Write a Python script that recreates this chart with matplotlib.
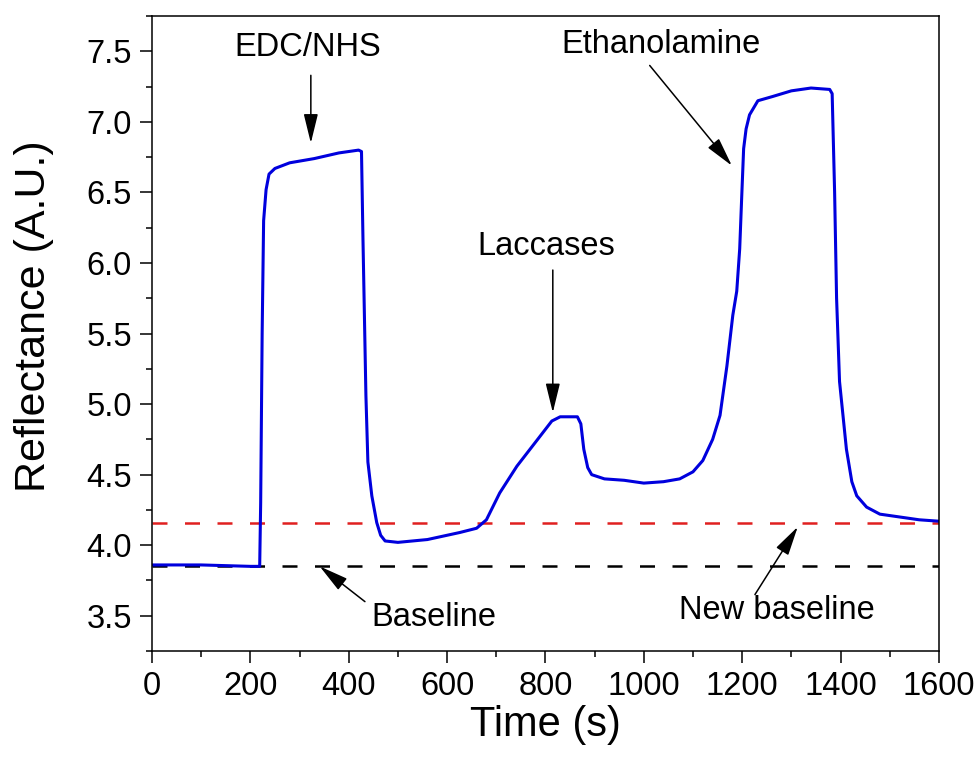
import numpy as np
import matplotlib
matplotlib.use('Agg')
from matplotlib import pyplot as plt
from matplotlib.ticker import MultipleLocator, AutoMinorLocator

plt.rcParams['font.family'] = ['Liberation Sans', 'DejaVu Sans']

# reflectance trace
time = [0, 100, 200, 219, 221, 224, 227, 232, 238, 250, 280, 330, 380, 420,
        426, 429, 435, 439, 447, 457, 465, 474, 500, 560, 626, 660, 680, 707,
        742, 782, 813, 830, 865, 872, 878, 886, 894, 920, 960, 1000, 1040,
        1073, 1100, 1120, 1140, 1155, 1169, 1181, 1189, 1195, 1199, 1203,
        1208, 1215, 1232, 1262, 1300, 1340, 1378, 1383, 1388, 1392, 1398,
        1412, 1423, 1433, 1453, 1480, 1520, 1560, 1600]
refl = [3.86, 3.86, 3.85, 3.85, 4.3, 5.5, 6.3, 6.52, 6.63, 6.67, 6.71, 6.74,
        6.78, 6.80, 6.79, 6.17, 5.06, 4.59, 4.35, 4.16, 4.07, 4.03, 4.02, 4.04,
        4.09, 4.12, 4.18, 4.37, 4.56, 4.74, 4.88, 4.91, 4.91, 4.86, 4.68, 4.55,
        4.50, 4.47, 4.46, 4.44, 4.45, 4.47, 4.52, 4.60, 4.75, 4.92, 5.27, 5.63,
        5.80, 6.10, 6.46, 6.81, 6.95, 7.05, 7.15, 7.18, 7.22, 7.24, 7.23, 7.20,
        6.5, 5.75, 5.16, 4.68, 4.45, 4.35, 4.27, 4.22, 4.20, 4.18, 4.17]

baseline = 3.85
new_baseline = 4.16

# label, text position, arrow tail, arrow head
labels = ['EDC/NHS', 'Laccases', 'Ethanolamine', 'Baseline', 'New baseline']
text_xy = [(317, 7.53), (801, 6.12), (1035, 7.55), (573, 3.49), (1270, 3.54)]
tail_xy = [(323, 7.33), (815, 5.95), (1012, 7.40), (433, 3.60), (1226, 3.65)]
head_xy = [(323, 6.85), (815, 4.94), (1179, 6.69), (341, 3.85), (1313, 4.13)]

fig = plt.figure(figsize=(9.78, 7.65), dpi=100)
ax = fig.add_axes([0.1554, 0.149, 0.8046, 0.830])

ax.axhline(baseline, color='black', lw=1.8, dashes=(6, 7))
ax.axhline(new_baseline, color='#e02020', lw=1.8, dashes=(6, 7))
ax.plot(time, refl, color='#0000dd', lw=2.2)

for lab, txy, t0, h in zip(labels, text_xy, tail_xy, head_xy):
    ax.text(txy[0], txy[1], lab, ha='center', va='center', fontsize=23.5)
    ax.annotate('', xy=h, xytext=t0,
                arrowprops=dict(arrowstyle='-|>,head_length=0.9,head_width=0.22',
                                color='black', lw=1.1, mutation_scale=20,
                                shrinkA=0, shrinkB=0))

ax.set_xlim(0, 1600)
ax.set_ylim(3.25, 7.75)
ax.xaxis.set_major_locator(MultipleLocator(200))
ax.yaxis.set_major_locator(MultipleLocator(0.5))
ax.xaxis.set_minor_locator(AutoMinorLocator(2))
ax.yaxis.set_minor_locator(AutoMinorLocator(2))
ax.yaxis.set_major_formatter(matplotlib.ticker.FormatStrFormatter('%.1f'))
ax.tick_params(which='major', direction='out', length=8.5, width=1.1,
               labelsize=23.5, pad=6)
ax.tick_params(which='minor', direction='out', length=4.5, width=1.1)
for s in ax.spines.values():
    s.set_linewidth(1.1)

ax.set_xlabel('Time (s)', fontsize=30, labelpad=2)
ax.set_ylabel('Reflectance (A.U.)', fontsize=31, labelpad=8)
ax.yaxis.set_label_coords(-0.125, 0.527)

fig.savefig('out.png', dpi=100)
